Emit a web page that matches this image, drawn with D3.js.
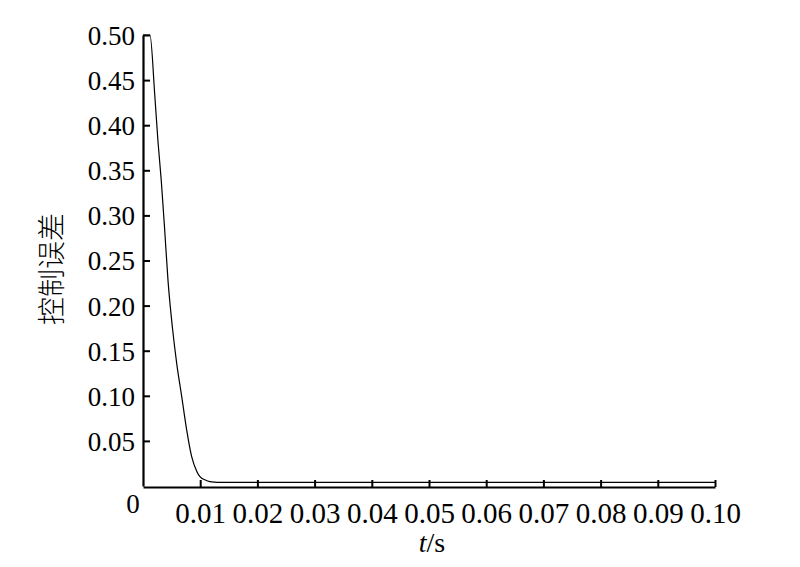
<!DOCTYPE html>
<html>
<head>
<meta charset="utf-8">
<script src="https://cdn.jsdelivr.net/npm/d3@7"></script>
<style>
  body { margin: 0; background: #fff; }
  svg { display: block; }
  .tick text { font-family: "Liberation Serif", "DejaVu Serif", serif; font-size: 27px; fill: #000; }
  .x-axis .tick text { font-size: 29px; }
</style>
</head>
<body>
<svg id="chart"></svg>
<script>
// control error vs time
const tValues = [0, 0.00122, 0.00205, 0.00262, 0.0032, 0.00379, 0.00437, 0.00519, 0.00589,
  0.00677, 0.00764, 0.00851, 0.00935, 0.00996, 0.0109, 0.0117, 0.0125, 0.0135, 0.02, 0.05, 0.1]
const errValues = [0.5, 0.5, 0.434, 0.382, 0.338, 0.284, 0.228, 0.173, 0.136,
  0.099, 0.062, 0.0325, 0.017, 0.0103, 0.0066, 0.0048, 0.0042, 0.004, 0.004, 0.004, 0.004]
const xTicks = [0.01, 0.02, 0.03, 0.04, 0.05, 0.06, 0.07, 0.08, 0.09, 0.10]
const yTicks = [0.05, 0.10, 0.15, 0.20, 0.25, 0.30, 0.35, 0.40, 0.45, 0.50]

const width = 800, height = 567
const margin = { left: 143, right: 85, top: 35, bottom: 81 }

const svg = d3.select('#chart')
  .attr('width', width)
  .attr('height', height)

const x = d3.scaleLinear().domain([0, 0.1]).range([margin.left, width - margin.right])
const y = d3.scaleLinear().domain([0, 0.5]).range([height - margin.bottom, margin.top])

const xAxis = svg.append('g')
  .attr('class', 'x-axis')
  .attr('transform', `translate(0,${y(0) + 1})`)
  .call(d3.axisBottom(x).tickValues(xTicks).tickFormat(d3.format('.2f')).tickSizeInner(-7).tickSizeOuter(0).tickPadding(15))
xAxis.select('.domain').attr('stroke-width', 2.2)
xAxis.selectAll('.tick line').attr('stroke-width', 2)

const yAxis = svg.append('g')
  .attr('transform', `translate(${x(0)},0)`)
  .call(d3.axisLeft(y).tickValues(yTicks).tickFormat(d3.format('.2f')).tickSizeInner(-7).tickSizeOuter(0).tickPadding(8))
yAxis.select('.domain').attr('stroke-width', 2.2)
yAxis.selectAll('.tick line').attr('stroke-width', 2)
yAxis.selectAll('.tick text').attr('dy', '0.35em')

// lone zero at the origin
svg.append('text')
  .attr('x', 133)
  .attr('y', 513)
  .attr('text-anchor', 'middle')
  .style('font-family', '"Liberation Serif", serif')
  .style('font-size', '27px')
  .text('0')

const line = d3.line()
  .x((d, i) => x(tValues[i]))
  .y(d => y(d))
  .curve(d3.curveMonotoneX)

svg.append('path')
  .datum(errValues)
  .attr('d', line)
  .attr('fill', 'none')
  .attr('stroke', '#000')
  .attr('stroke-width', 1.2)

// axis titles
const xt = svg.append('text')
  .attr('x', 432)
  .attr('y', 552)
  .attr('text-anchor', 'middle')
  .style('font-family', '"Liberation Serif", serif')
  .style('font-size', '28px')
xt.append('tspan').style('font-style', 'italic').text('t')
xt.append('tspan').text('/s')

svg.append('text')
  .attr('transform', 'translate(62,269) rotate(-90)')
  .attr('text-anchor', 'middle')
  .style('font-family', '"Noto Sans CJK SC", sans-serif')
  .style('font-size', '28px')
  .style('font-weight', 300)
  .text('控制误差')
</script>
</body>
</html>
